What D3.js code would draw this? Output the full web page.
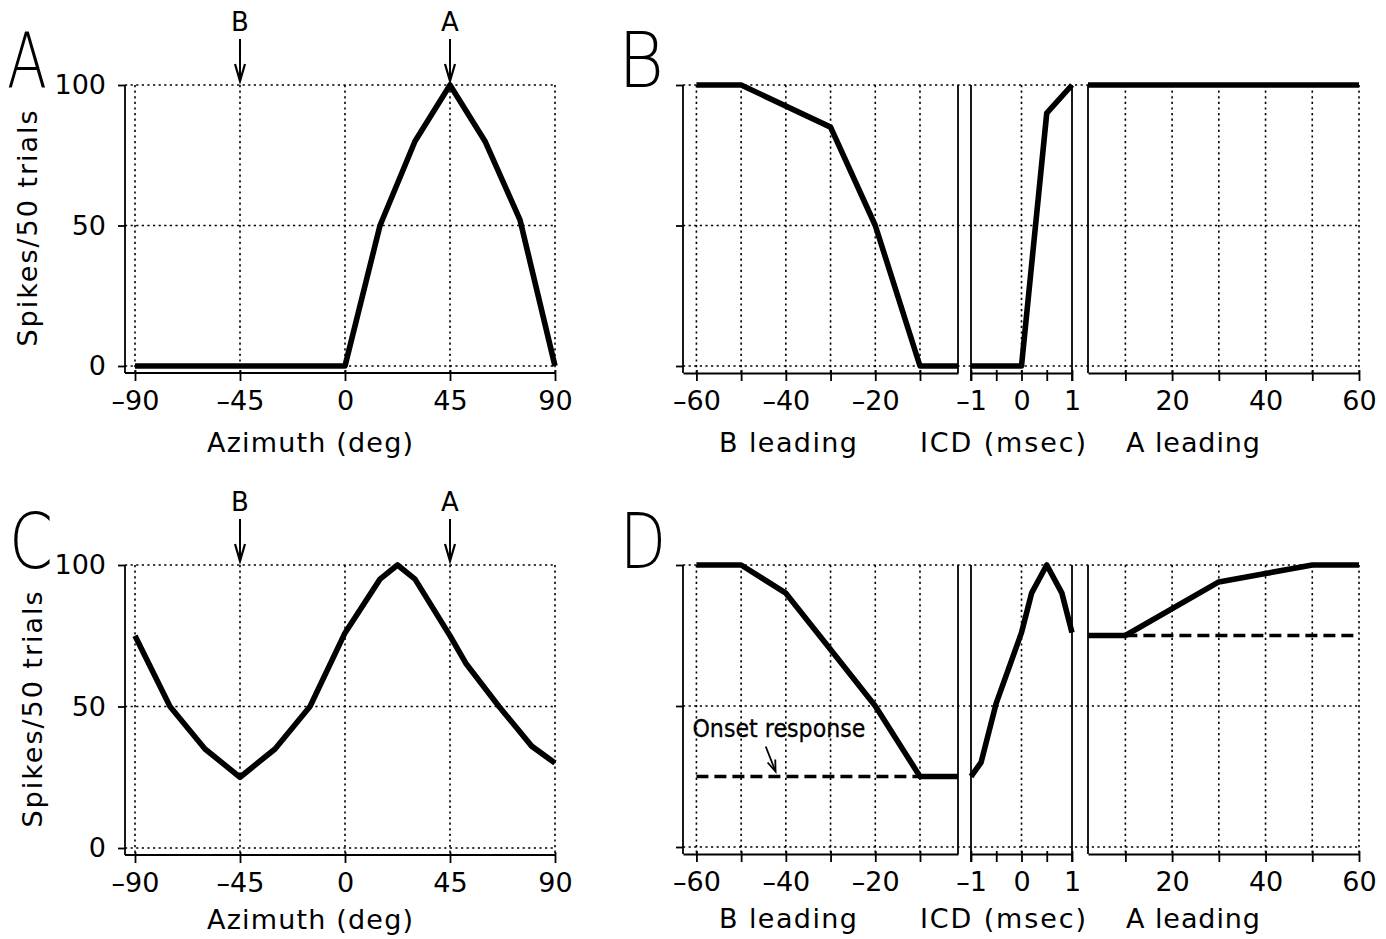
<!DOCTYPE html>
<html><head><meta charset="utf-8">
<script src="https://cdn.jsdelivr.net/npm/d3@7"></script>
<style>
body{margin:0;background:#fff}
svg{display:block}
text{font-family:'DejaVu Sans',sans-serif;fill:#000}
</style>
</head><body>
<svg id="c" width="1386" height="939"></svg>
<script>
// ---------------- data ----------------
const spikeTicks = [0, 50, 100];
const azTicks = [-90, -45, 0, 45, 90];
const speakerLabels = ["B", "A"];
const speakerAz = [-45, 45];

// Panel A: azimuth tuning
const azA = [-90, -75, -60, -45, -30, -15, 0, 15, 30, 45, 60, 75, 90];
const spikesA = [0, 0, 0, 0, 0, 0, 0, 50, 80, 100, 80, 52, 0];

// Panel C: azimuth tuning
const azC = [-90, -75, -60, -45, -30, -15, 0, 15, 22.5, 30, 45, 52, 66, 80, 90];
const spikesC = [75, 50, 35, 25, 35, 50, 76, 95, 100, 95, 75, 65, 50, 36, 30];

// ICD axis ticks
const bLeadTicks = [-60, -50, -40, -30, -20, -10];
const bLeadLabels = [-60, -40, -20];
const icdTicks = [-1, -0.5, 0, 0.5, 1];
const icdGrid = [0];
const icdLabels = [-1, 0, 1];
const aLeadTicks = [10, 20, 30, 40, 50, 60];
const aLeadLabels = [20, 40, 60];
const segTitles = ["B  leading", "ICD  (msec)", "A  leading"];

// Panel B
const bBleadX = [-60, -50, -30, -20, -10, -1.5];
const bBleadY = [100, 100, 85, 50, 0, 0];
const bIcdX = [-1, 0, 0.5, 1];
const bIcdY = [0, 0, 90, 100];
const bAleadX = [2, 10, 20, 30, 40, 50, 60];
const bAleadY = [100, 100, 100, 100, 100, 100, 100];

// Panel D
const dBleadX = [-60, -50, -40, -30, -20, -10, -1.5];
const dBleadY = [100, 100, 90, 70, 50, 25, 25];
const dIcdX = [-1, -0.8, -0.5, 0, 0.2, 0.5, 0.8, 1];
const dIcdY = [25, 30, 51, 76, 90, 100, 90, 76];
const dAleadX = [2, 10, 30, 40, 50, 60];
const dAleadY = [75, 75, 94, 97, 100, 100];
const onsetBleadX = [-60, -10];
const onsetBleadY = [25, 25];
const onsetAleadX = [10, 60];
const onsetAleadY = [75, 75];
const onsetLabel = "Onset response";

// ---------------- drawing ----------------
const svg = d3.select("#c");
const FS = 27;
const TICKFONT = "'DejaVu Sans Condensed','DejaVu Sans',sans-serif";
const DOT = "2.2,3.4";

function grid(g, x1, x2, y1, y2) {
  g.append("line").attr("x1", x1).attr("x2", x2).attr("y1", y1).attr("y2", y2)
    .attr("stroke", "#000").attr("stroke-width", 1.6).attr("stroke-dasharray", DOT);
}
function solid(g, x1, x2, y1, y2, w) {
  g.append("line").attr("x1", x1).attr("x2", x2).attr("y1", y1).attr("y2", y2)
    .attr("stroke", "#000").attr("stroke-width", w || 1.8);
}
function dataLine(g, xs, ys, X, Y, dashed) {
  const pts = X.map((v, i) => [xs(v), ys(Y[i])]);
  g.append("path").attr("d", d3.line()(pts)).attr("fill", "none")
    .attr("stroke", "#000").attr("stroke-width", dashed ? 3.6 : 5.6)
    .attr("stroke-linejoin", "round")
    .attr("stroke-dasharray", dashed ? "12,6" : null);
}
const fmt = d => (d < 0 ? "\u2013" : "") + Math.abs(d);

function xAxis(g, xs, yb, ticks, labels) {
  const ax = d3.axisBottom(xs).tickValues(ticks).tickSize(8).tickSizeOuter(0)
    .tickPadding(10).tickFormat(d => labels.includes(d) ? fmt(d) : "");
  const a = g.append("g").attr("transform", `translate(0,${yb})`).call(ax);
  a.select(".domain").attr("stroke-width", 1.8);
  a.selectAll(".tick line").attr("stroke-width", 1.8).attr("y1", -3);
  a.selectAll(".tick text").attr("font-size", FS).attr("font-family", TICKFONT)
    .attr("dy", "0.72em");
}
function yAxis(g, ys, xl, yb, labels) {
  const ax = d3.axisLeft(ys).tickValues(spikeTicks).tickSize(7).tickPadding(12)
    .tickFormat(d => labels ? String(d) : "");
  const a = g.append("g").attr("transform", `translate(${xl},0)`).call(ax);
  a.select(".domain").remove();
  a.selectAll(".tick line").attr("stroke-width", 1.8);
  a.selectAll(".tick text").attr("font-size", FS).attr("font-family", TICKFONT);
  solid(g, xl, xl, ys(100), yb);
}
function panelLetter(txt, x, y, w) {
  const t = svg.append("text").attr("x", 0).attr("y", 0).text(txt)
    .attr("font-size", 76).attr("font-weight", 200)
    .attr("font-family", "'DejaVu Sans ExtraLight','DejaVu Sans',sans-serif");
  const adv = t.node().getComputedTextLength() || w;
  t.attr("transform", `translate(${x},${y}) scale(${w / adv},1)`);
}
function arrowDown(g, x, yTop, yTip) {
  g.append("line").attr("x1", x).attr("x2", x).attr("y1", yTop).attr("y2", yTip)
    .attr("stroke", "#000").attr("stroke-width", 2);
  g.append("path").attr("d", `M${x - 5},${yTip - 17}L${x},${yTip}L${x + 5},${yTip - 17}`)
    .attr("fill", "none").attr("stroke", "#000").attr("stroke-width", 2.2);
}

// ---- Azimuth panels (A, C)
function azPanel(cfg, AZ, SP) {
  const g = svg.append("g");
  const xs = d3.scaleLinear().domain([-90, 90]).range([135, 555]);
  const ys = d3.scaleLinear().domain([0, 100]).range([cfg.y0, cfg.y100]);
  const xl = 125, yb = cfg.y0 + 7;
  spikeTicks.forEach(v => grid(g, xl, xs(90), ys(v), ys(v)));
  azTicks.forEach(v => grid(g, xs(v), xs(v), ys(100), yb));
  solid(g, xl, xs(90), yb, yb);
  xAxis(g, xs, yb, azTicks, azTicks);
  g.selectAll(".domain").remove();
  yAxis(g, ys, xl, yb, true);
  dataLine(g, xs, ys, AZ, SP, false);
  speakerLabels.forEach((s, i) => {
    const x = xs(speakerAz[i]);
    arrowDown(g, x, ys(100) - 46, ys(100) - 4);
    g.append("text").attr("x", x).attr("y", ys(100) - 62).attr("text-anchor", "middle")
      .attr("dominant-baseline", "middle").attr("font-size", 26).text(s);
  });
  g.append("text").attr("x", 310).attr("y", yb + cfg.tdy).attr("text-anchor", "middle")
    .attr("font-size", FS).attr("textLength", 206).attr("lengthAdjust", "spacing")
    .text("Azimuth  (deg)");
  g.append("text").attr("transform", `translate(${cfg.ylx},${(ys(100) + ys(0)) / 2 + 3}) rotate(-90)`)
    .attr("text-anchor", "middle").attr("dy", "0.35em").attr("font-size", FS)
    .attr("textLength", 236).attr("lengthAdjust", "spacing").text("Spikes/50  trials");
}

// ---- ICD panels (B, D)
function icdPanel(cfg, lines) {
  const g = svg.append("g");
  const ys = d3.scaleLinear().domain([0, 100]).range([cfg.y0, cfg.y100]);
  const yb = cfg.y0 + 7;
  const xl = 683;
  const xB = d3.scaleLinear().domain([-63, -1.5]).range([683, 958]);
  const xI = d3.scaleLinear().domain([-1, 1]).range([971, 1072]);
  const xA = d3.scaleLinear().domain([2, 60]).range([1088, 1359]);
  spikeTicks.forEach(v => grid(g, xl, xA(60), ys(v), ys(v)));
  bLeadTicks.forEach(v => grid(g, xB(v), xB(v), ys(100), yb));
  icdGrid.forEach(v => grid(g, xI(v), xI(v), ys(100), yb));
  aLeadTicks.forEach(v => grid(g, xA(v), xA(v), ys(100), yb));
  solid(g, xB(-1.5), xB(-1.5), ys(100), yb);
  solid(g, xI(-1), xI(-1), ys(100), yb + 8);
  solid(g, xI(1), xI(1), ys(100), yb + 8);
  solid(g, xA(2), xA(2), ys(100), yb);
  xAxis(g, xB, yb, bLeadTicks, bLeadLabels);
  xAxis(g, xI, yb, icdTicks, icdLabels);
  xAxis(g, xA, yb, aLeadTicks, aLeadLabels);
  yAxis(g, ys, xl, yb, false);
  const sc = {B: xB, I: xI, A: xA};
  lines.forEach(l => dataLine(g, sc[l.seg], ys, l.x, l.y, l.dashed));
  const tx = [788, 1003, 1193], tw = [138, 166, 134];
  segTitles.forEach((t, i) => g.append("text").attr("x", tx[i]).attr("y", yb + cfg.tdy)
    .attr("text-anchor", "middle").attr("font-size", FS)
    .attr("textLength", tw[i]).attr("lengthAdjust", "spacing").text(t));
  return {g, xB, xI, xA, ys};
}

azPanel({y0: 366, y100: 85, ylx: 28, tdy: 79}, azA, spikesA);
azPanel({y0: 848, y100: 565, ylx: 33, tdy: 74}, azC, spikesC);

icdPanel({y0: 366, y100: 85, tdy: 79}, [
  {seg: "B", x: bBleadX, y: bBleadY},
  {seg: "I", x: bIcdX, y: bIcdY},
  {seg: "A", x: bAleadX, y: bAleadY}
]);
const D = icdPanel({y0: 847, y100: 565, tdy: 74}, [
  {seg: "B", x: onsetBleadX, y: onsetBleadY, dashed: true},
  {seg: "A", x: onsetAleadX, y: onsetAleadY, dashed: true},
  {seg: "B", x: dBleadX, y: dBleadY},
  {seg: "I", x: dIcdX, y: dIcdY},
  {seg: "A", x: dAleadX, y: dAleadY}
]);
D.g.append("text").attr("x", D.xB(-60) - 4).attr("y", D.ys(25) - 40)
  .attr("font-family", "'Liberation Sans Narrow','Liberation Sans',sans-serif")
  .attr("font-size", 24).attr("textLength", 173).attr("lengthAdjust", "spacingAndGlyphs")
  .attr("stroke", "#000").attr("stroke-width", 0.3)
  .text(onsetLabel);
(function () {
  const x1 = D.xB(-44.5), y1 = D.ys(25) - 30, x2 = D.xB(-42.3), y2 = D.ys(25) - 5;
  D.g.append("line").attr("x1", x1).attr("y1", y1).attr("x2", x2).attr("y2", y2)
    .attr("stroke", "#000").attr("stroke-width", 1.8);
  const ang = Math.atan2(y2 - y1, x2 - x1), L = 12, s = 0.35;
  const p1 = [x2 - L * Math.cos(ang - s), y2 - L * Math.sin(ang - s)];
  const p2 = [x2 - L * Math.cos(ang + s), y2 - L * Math.sin(ang + s)];
  D.g.append("path").attr("d", `M${p1}L${x2},${y2}L${p2}`).attr("fill", "none")
    .attr("stroke", "#000").attr("stroke-width", 1.8);
})();

panelLetter("A", 7, 88, 40);
panelLetter("B", 618, 87, 46);
panelLetter("C", 9, 568, 44);
panelLetter("D", 620, 568, 46);
</script>
</body></html>
